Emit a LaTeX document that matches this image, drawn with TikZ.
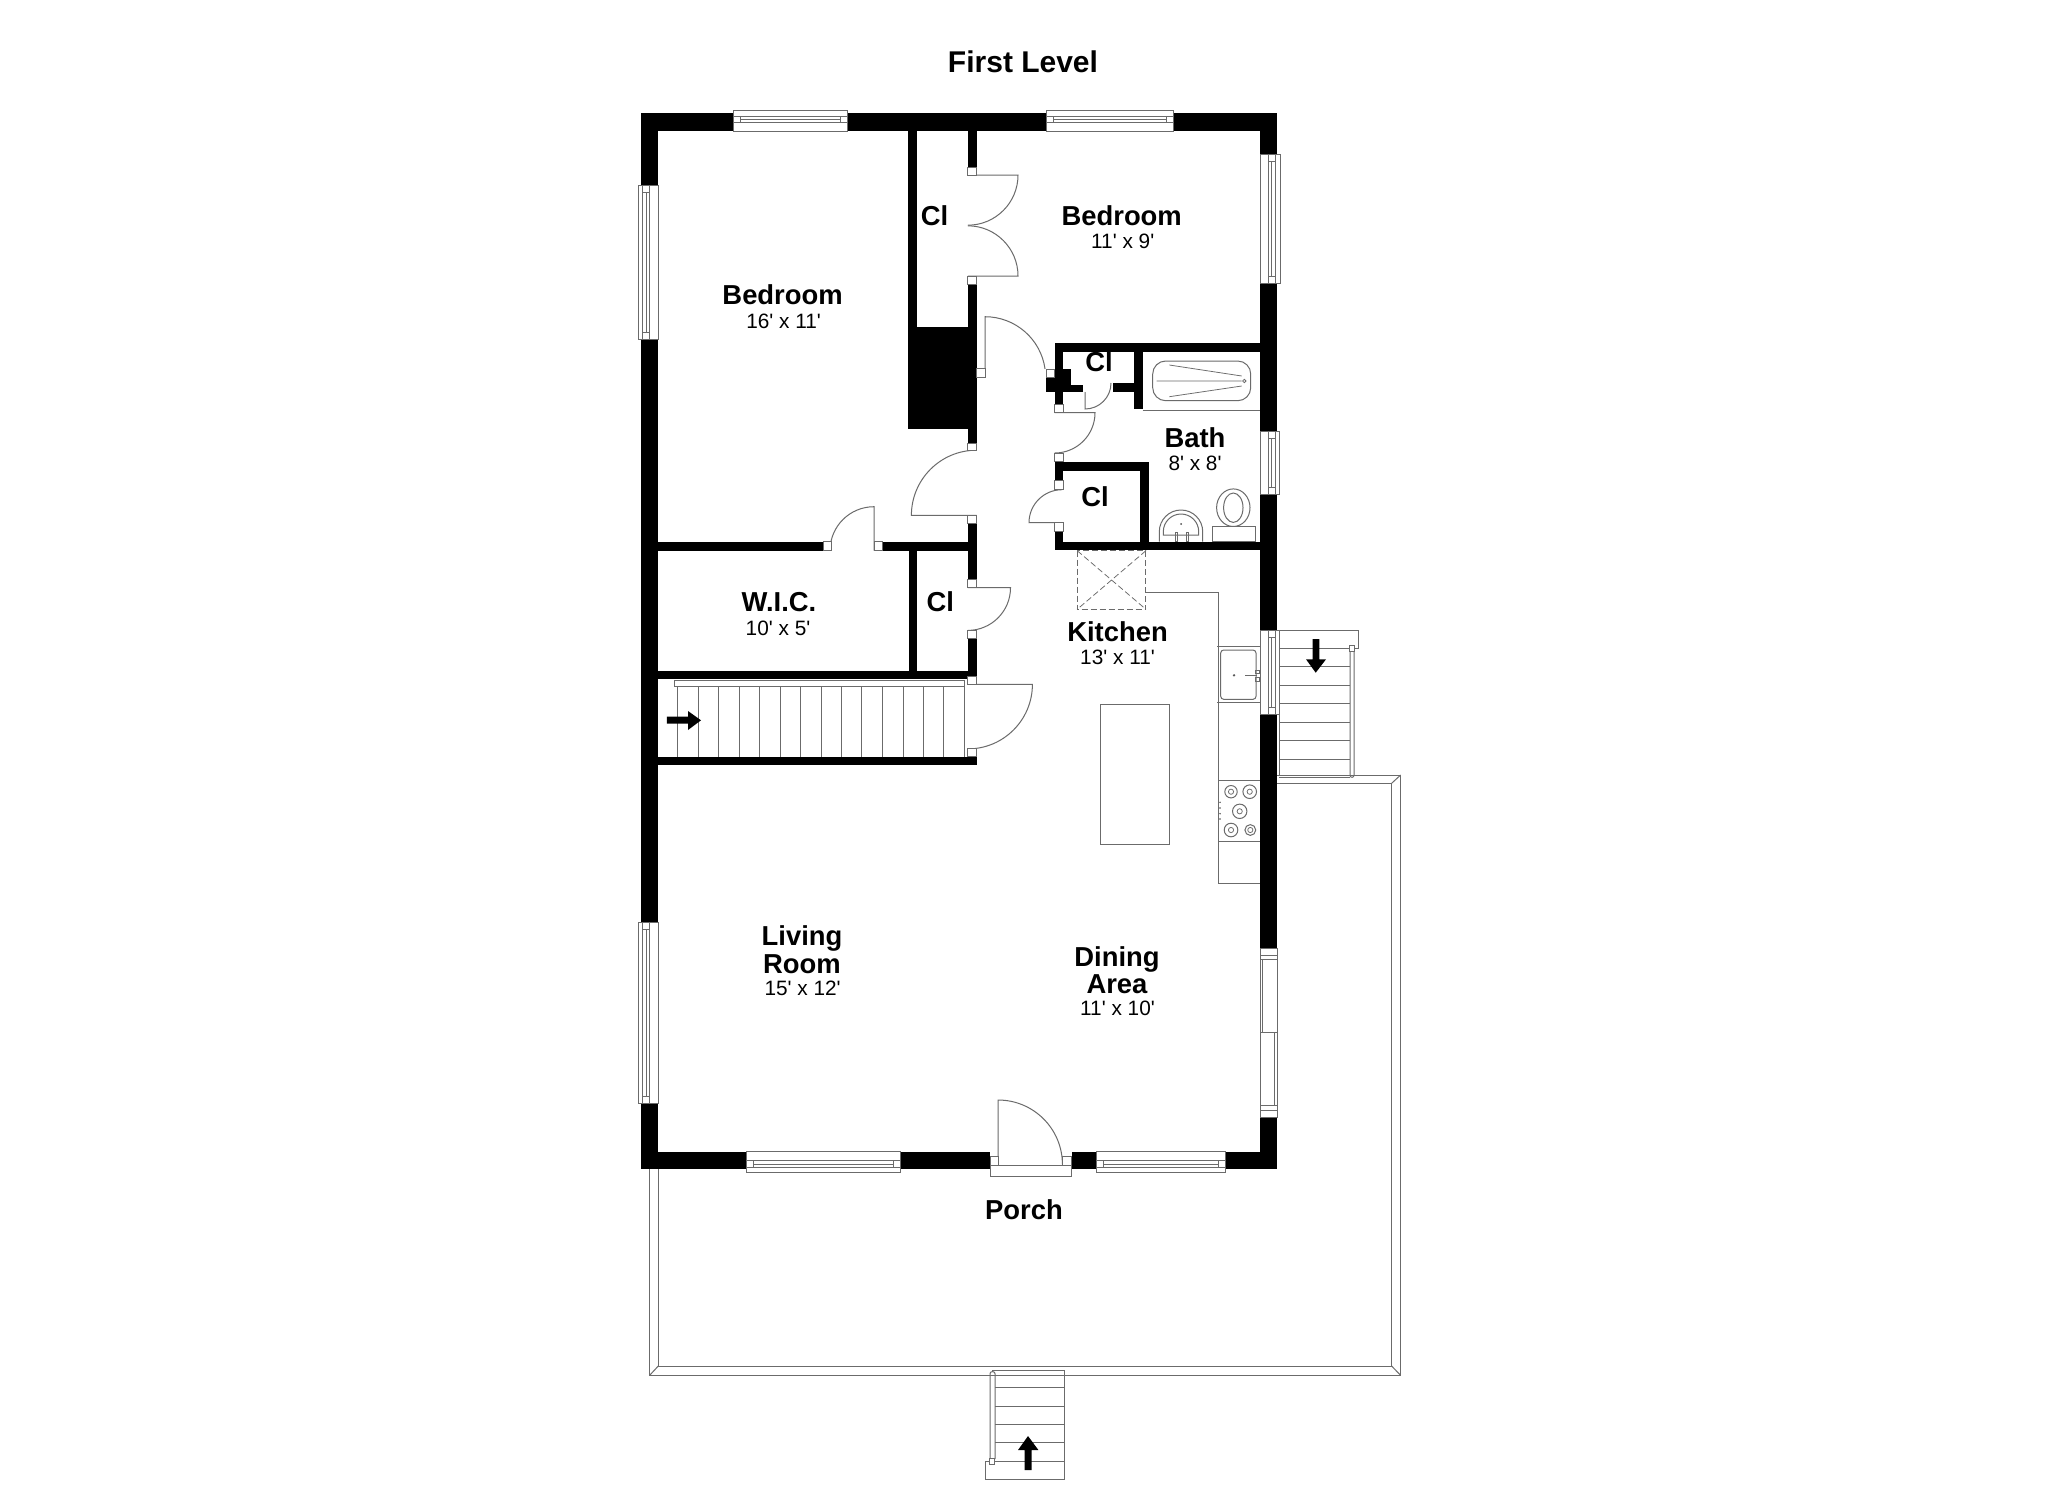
\documentclass[tikz,border=0pt]{standalone}
\usepackage{fontspec}
\setmainfont{Liberation Sans}
\newfontfamily\dimfont{Liberation Sans}
\newcommand\mkwall[4]{\fill[black] (#1,#2) rectangle (#3,#4);}
\newcommand\mkjamb[4]{\filldraw[fill=white,lin] (#1,#2) rectangle (#3,#4);}
% horizontal window: x1 x2 y1 y2 line1 line2
\newcommand\hwin[6]{\filldraw[fill=white,lin] (#1,#3) rectangle (#2,#4);
 \draw[lin] (#1,#5) -- (#2,#5) (#1,#6) -- (#2,#6);
 \draw[lin] ({#1+7},#5) -- ({#1+7},#6) ({#2-7},#5) -- ({#2-7},#6);
 \draw[lin] ({#1+7},{(#5+#6)/2}) -- ({#2-7},{(#5+#6)/2});}
% vertical window: y1 y2 x1 x2 line1 line2
\newcommand\vwin[6]{\filldraw[fill=white,lin] (#3,#1) rectangle (#4,#2);
 \draw[lin] (#5,#1) -- (#5,#2) (#6,#1) -- (#6,#2);
 \draw[lin] (#5,{#1+7}) -- (#6,{#1+7}) (#5,{#2-7}) -- (#6,{#2-7});
 \draw[lin] ({(#5+#6)/2},{#1+7}) -- ({(#5+#6)/2},{#2-7});}
\tikzset{
 lin/.style={draw=black!58,line width=0.5pt},
 thin lin/.style={draw=black!58,line width=0.38pt},
 rmlabel/.style={anchor=base,inner sep=0pt,yshift=-4.9pt,font=\fontsize{13.7pt}{14pt}\bfseries\selectfont},
 dmlabel/.style={anchor=base,inner sep=0pt,yshift=-3.8pt,font=\dimfont\fontsize{10.4pt}{11pt}\selectfont},
 ttlabel/.style={anchor=base,inner sep=0pt,yshift=-5.4pt,font=\fontsize{15pt}{16pt}\bfseries\selectfont},
}
\begin{document}
\begin{tikzpicture}[x=0.5pt,y=-0.5pt]
\fill[white] (0,0) rectangle (2048,1489);
\useasboundingbox (0,0) rectangle (2048,1489);
% porch
\draw[lin] (1277,775) -- (1400.6,775) -- (1400.6,1375.3) -- (649.6,1375.3) -- (649.6,1169);
\draw[lin] (1277,783.3) -- (1391.6,783.3) -- (1391.6,1366) -- (658.3,1366) -- (658.3,1169);
\draw[lin] (1400.6,775) -- (1391.6,783.3) (1400.6,1375.3) -- (1391.6,1366) (649.6,1375.3) -- (658.3,1366);
% outer walls
\mkwall{640.8}{113.3}{1277}{131}
\mkwall{640.8}{1151.7}{1277}{1169.3}
\mkwall{640.8}{113.3}{658.2}{1169.3}
\mkwall{1260}{113.3}{1277}{1169.3}
% inner walls
\mkwall{908}{131}{916.6}{326.7}
\mkwall{967.8}{131}{976.5}{167.3}
\mkwall{967.8}{284}{976.5}{443.3}
\mkwall{908}{326.7}{976.5}{429}
\mkwall{967.8}{523.3}{976.5}{579.3}
\mkwall{882.3}{541.7}{976.5}{550.7}
\mkwall{658}{541.7}{823}{550.7}
\mkwall{908.6}{550.7}{917}{676}
\mkwall{967.8}{638.3}{976.5}{676}
\mkwall{658}{670.7}{976.5}{679.3}
\mkwall{658}{756.7}{976.5}{765.3}
% bath block
\mkwall{1054.7}{342.7}{1260}{351.7}
\mkwall{1054.7}{342.7}{1063.3}{404}
\mkwall{1063.3}{369.3}{1071.3}{392}
\mkwall{1071.3}{385}{1083.3}{392}
\mkwall{1046}{378}{1054.7}{392}
\mkwall{1134}{351.7}{1142.7}{409.3}
\mkwall{1112.7}{383.3}{1134}{392}
\mkwall{1054.7}{461.7}{1149}{470.7}
\mkwall{1140}{461.7}{1149}{541.7}
\mkwall{1054.7}{461.7}{1063.3}{480}
\mkwall{1054.7}{531}{1063.3}{541.7}
\mkwall{1054.7}{541.7}{1260}{550}
% door opening
\fill[white] (990,1150.7) rectangle (1071.5,1170);
% doors
\draw[lin] (967.8,175) -- (1018,175) arc[start angle=0,end angle=90,radius=50.2];
\draw[lin] (967.8,276) -- (1018,276) arc[start angle=0,end angle=-90,radius=50.2];
\draw[lin] (985,377.3) -- (985,316.7) arc[start angle=-90,end angle=-8,radius=60.6];
\draw[lin] (976.5,515.3) -- (911.4,515.3) arc[start angle=180,end angle=270,radius=65.1];
\draw[lin] (874,550.7) -- (874,506.7) arc[start angle=-90,end angle=-180,radius=44];
\draw[lin] (967.8,587.7) -- (1010.5,587.7) arc[start angle=0,end angle=90,radius=42.7];
\draw[lin] (967.8,684.3) -- (1032.4,684.3) arc[start angle=0,end angle=90,radius=64.6];
\draw[lin] (1054.7,412.7) -- (1095,412.7) arc[start angle=0,end angle=90,radius=40.3];
\draw[lin] (1062,522.7) -- (1029,522.7) arc[start angle=180,end angle=270,radius=33];
\draw[lin] (1085,392) -- (1085,409) arc[start angle=90,end angle=0,radius=26];
\draw[lin] (998,1165) -- (998,1100) arc[start angle=-90,end angle=0,radius=64.4];
% door jambs
\mkjamb{967.8}{167.3}{976.5}{175}
\mkjamb{967.8}{276}{976.5}{284}
\mkjamb{976.5}{368.3}{985}{377.3}
\mkjamb{1046}{369.3}{1054.7}{377.3}
\mkjamb{1054.7}{404}{1063.3}{412.7}
\mkjamb{1054.7}{453.3}{1063.3}{461.7}
\mkjamb{1054.7}{480}{1063.3}{489.3}
\mkjamb{1054.7}{522.7}{1063.3}{531}
\mkjamb{967.8}{443.3}{976.5}{450.7}
\mkjamb{967.8}{515.3}{976.5}{523.3}
\mkjamb{823}{541.7}{831.6}{550.7}
\mkjamb{874}{541.7}{882.3}{550.7}
\mkjamb{967.8}{579.3}{976.5}{587.7}
\mkjamb{967.8}{630}{976.5}{638.3}
\mkjamb{967.8}{676}{976.5}{684.3}
\mkjamb{967.8}{748.3}{976.5}{756.7}
\mkjamb{990}{1156.7}{998}{1165}
\mkjamb{1062.4}{1156.7}{1071.5}{1165}
\filldraw[fill=white,lin] (990,1165) rectangle (1071.5,1176);
% windows
\hwin{733.2}{847.7}{110.7}{131}{116}{122.3}
\hwin{1046.3}{1173}{110.7}{131}{116}{122.3}
\hwin{746.5}{900.6}{1151.7}{1172}{1160.3}{1167.7}
\hwin{1096}{1225.6}{1151.7}{1172}{1160.3}{1167.7}
\vwin{185}{339.3}{638}{658.2}{642.5}{649.5}
\vwin{922.7}{1103.3}{638.4}{658.2}{642.5}{649.5}
\vwin{154.3}{283.7}{1260}{1280}{1268.3}{1275}
\vwin{431.7}{494.3}{1260}{1279.3}{1268.3}{1275}
\vwin{630}{714.3}{1260}{1279.3}{1268.3}{1275}
\filldraw[fill=white,lin] (1260,948.3) rectangle (1277.3,1117.3);
\draw[lin] (1260,955) -- (1277.3,955) (1260,959) -- (1277.3,959) (1260,1105) -- (1277.3,1105) (1260,1110) -- (1277.3,1110) (1260,1032.3) -- (1277.3,1032.3);
\draw[lin] (1262.7,959) -- (1262.7,1032.3) (1274,1032.3) -- (1274,1105);
% interior stairs
\draw[lin] (674.7,680.7) rectangle (964.3,686);
\foreach \x in {677.7,698,718.5,739.4,759.8,780.2,800.6,821,841.4,861.8,882.7,903,923.5,943.9,964.8}
  \draw[lin] (\x,686) -- (\x,756.7);
\fill[black] (666.8,716.7) -- (688,716.7) -- (688,711) -- (701,720.3) -- (688,730) -- (688,723.7) -- (666.8,723.7) -- cycle;
% tub
\draw[lin] (1142.7,410) -- (1260,410);
\draw[lin,rounded corners=6.5pt] (1152.7,361) rectangle (1250.7,400.7);
\draw[thin lin] (1169.3,365) -- (1241.7,376) (1156.7,381) -- (1241.7,381) (1169.3,396.7) -- (1241.7,386);
\draw[thin lin] (1244.3,381) circle[radius=1.7];
% toilet
\draw[lin] (1233.3,507.7) ellipse[x radius=16.7,y radius=18.8];
\draw[lin] (1233.3,507.7) ellipse[x radius=9.7,y radius=14.7];
\filldraw[fill=white,lin] (1212.3,526.7) rectangle (1255,541.7);
% bath sink
\draw[lin] (1159.3,541.7) -- (1159.3,531.7) arc[start angle=180,end angle=360,radius=21.7] -- (1202.7,541.7);
\draw[lin] (1163.3,535) -- (1163.3,531.7) arc[start angle=180,end angle=360,radius=17.7] -- (1198.7,535) -- cycle;
\fill[black!70] (1181,524) circle[radius=1];
\draw[lin] (1175.7,532) rectangle (1177.7,541.7) (1186.3,532) rectangle (1188.3,541.7);
% kitchen
\draw[lin,dash pattern=on 3pt off 1.5pt] (1077.2,550.7) rectangle (1145.9,609.3);
\draw[thin lin,dash pattern=on 3pt off 1.5pt] (1077.2,550.7) -- (1145.9,609.3) (1145.9,550.7) -- (1077.2,609.3);
\draw[lin] (1145.9,592.3) -- (1218,592.3) -- (1218,883.3) -- (1260,883.3);
\draw[lin] (1217.3,646.7) -- (1260,646.7) (1217.3,702.7) -- (1260,702.7);
\draw[lin,rounded corners=1.5pt] (1220.7,650) rectangle (1256,699.3);
\fill[black!65] (1234,675.3) circle[radius=1.3];
\draw[lin] (1245,675.7) -- (1257,675.7);
\draw[lin] (1255.5,670) rectangle (1259,673.5) (1255.5,677.5) rectangle (1259,681);
\draw[lin] (1218,780) -- (1260,780) (1218,841.7) -- (1260,841.7);
\foreach \a/\b/\r in {1231/791.7/6.2,1249.7/791.7/6.8,1239.7/811.3/7.2,1231/830/6.8,1250.3/830/5.4}{
  \draw[lin] (\a,\b) circle[radius=\r];
  \draw[thin lin] (\a,\b) circle[radius=2.6];
}
\foreach \b in {802.3,808,813.7,819} \fill[black!70] (1220,\b) circle[radius=0.8];
\draw[lin] (1100.6,704.3) rectangle (1169.3,844.3);
% side stairs
\draw[lin] (1279.3,630) -- (1358,630) -- (1358,648.3) -- (1355,648.3);
\draw[lin] (1279.3,630) -- (1279.3,775);
\foreach \y in {648.3,666.7,685.3,703.7,722.3,740.7,759}
  \draw[lin] (1279.3,\y) -- (1350,\y);
\draw[lin,rounded corners=1pt] (1350,650) -- (1350,777.3) -- (1354,777.3) -- (1354,650);
\draw[lin] (1279.3,777.3) -- (1350,777.3);
\filldraw[fill=white,lin] (1349.5,645.7) rectangle (1354.7,651);
\fill[black] (1312.7,639) -- (1319.3,639) -- (1319.3,659.3) -- (1326,659.3) -- (1315.7,672.7) -- (1306,659.3) -- (1312.7,659.3) -- cycle;
% porch stairs
\draw[lin] (990,1461) -- (985.8,1461) -- (985.8,1479) -- (1064.9,1479) -- (1064.9,1370) -- (992,1370);
\draw[lin,rounded corners=1pt] (990,1459) -- (990,1371.7) -- (995,1371.7) -- (995,1459);
\foreach \y in {1387.7,1406,1424.3,1442.7,1461}
  \draw[lin] (995,\y) -- (1064.9,\y);
\filldraw[fill=white,lin] (989,1458.5) rectangle (994.5,1464);
\fill[black] (1024.6,1470) -- (1031.7,1470) -- (1031.7,1450) -- (1038.4,1450) -- (1028,1436) -- (1018,1450) -- (1024.6,1450) -- cycle;
% labels
\node[ttlabel] (t1) at (1023,61.4) {First Level};
\node[rmlabel] (l1) at (782.6,295) {Bedroom};
\node[dmlabel] (d1) at (783.6,320.7) {16' x 11'};
\node[rmlabel] (l2) at (1121.7,216) {Bedroom};
\node[dmlabel] (d2) at (1122.7,241) {11' x 9'};
\node[rmlabel] (c1) at (934.5,216) {Cl};
\node[rmlabel] (c2) at (1099,362) {Cl};
\node[rmlabel] (c3) at (1095,496.5) {Cl};
\node[rmlabel] (c4) at (940.4,601.7) {Cl};
\node[rmlabel] (l3) at (1195,437.3) {Bath};
\node[dmlabel] (d3) at (1195,463) {8' x 8'};
\node[rmlabel] (l4) at (779,601.7) {W.I.C.};
\node[dmlabel] (d4) at (778,627.7) {10' x 5'};
\node[rmlabel] (l5) at (1117.5,631.7) {Kitchen};
\node[dmlabel] (d5) at (1117.5,657.3) {13' x 11'};
\node[rmlabel] (l6) at (802,936) {Living};
\node[rmlabel] (l6b) at (802,964) {Room};
\node[dmlabel] (d6) at (802.6,988.3) {15' x 12'};
\node[rmlabel] (l7) at (1117,957) {Dining};
\node[rmlabel] (l7b) at (1117,983.3) {Area};
\node[dmlabel] (d7) at (1117.5,1008.3) {11' x 10'};
\node[rmlabel] (l8) at (1024,1209.7) {Porch};
\end{tikzpicture}
\end{document}
